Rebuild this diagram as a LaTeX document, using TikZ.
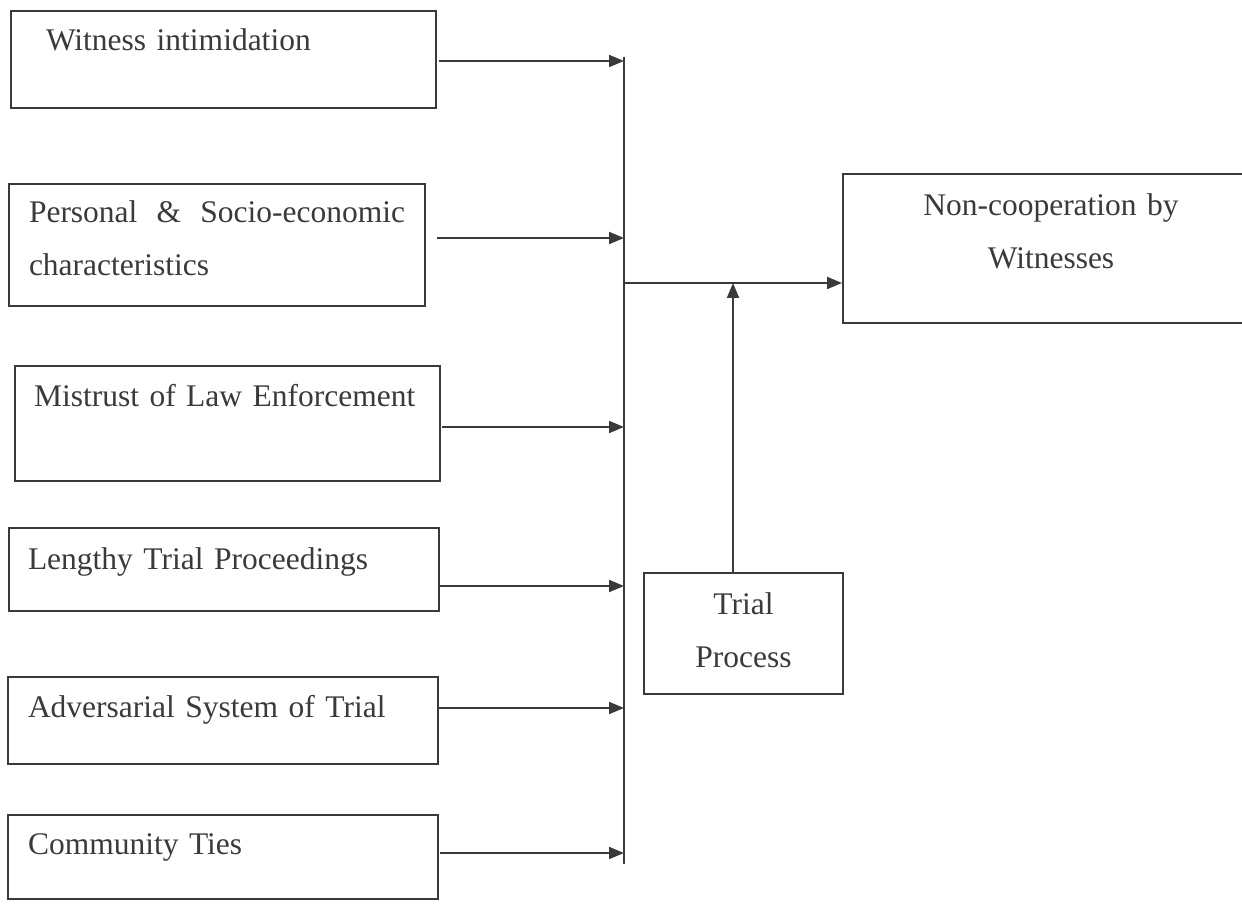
\documentclass[tikz,border=0pt]{standalone}
\usepackage{fontspec}
\setmainfont{Liberation Serif}
\usetikzlibrary{arrows.meta,calc}
\definecolor{ink}{HTML}{3A3A3A}
\tikzset{
  factor/.style={draw=ink, text=ink, line width=2pt, anchor=north west,
    inner ysep=0pt, font=\fontsize{31.5}{53}\selectfont},
  wire/.style={draw=ink, line width=2pt},
  flow/.style={wire, -{Triangle[length=15pt,width=12pt]}}
}

\begin{document}
\begin{tikzpicture}[x=1pt,y=-1pt]
\useasboundingbox (0,0) rectangle (1242,909);
\clip (0,0) rectangle (1242,909);
 \node [factor, inner xsep=35pt, text width=355pt, text height=40pt, text depth=57pt, align=left] (intim) at (10,10) {Witness intimidation};
 \node [factor, inner xsep=20pt, text width=376pt, text height=39pt, text depth=83pt, align=justify] (socio) at (8,183) {Personal \& Socio-economic characteristics};
 \node [factor, inner xsep=19pt, text width=387pt, text height=40pt, text depth=75pt, align=left] (mistrust) at (14,365) {Mistrust of Law Enforcement};
 \node [factor, inner xsep=19pt, text width=392pt, text height=41pt, text depth=42pt, align=left] (lengthy) at (8,527) {Lengthy Trial Proceedings};
 \node [factor, inner xsep=20pt, text width=390pt, text height=40pt, text depth=47pt, align=left] (advers) at (7,676) {Adversarial System of Trial};
 \node [factor, inner xsep=20pt, text width=390pt, text height=39pt, text depth=45pt, align=left] (ties) at (7,814) {Community Ties};
 \node [factor, inner xsep=20pt, text width=376pt, text height=42pt, text depth=107pt, align=center] (noncoop) at (842,173) {Non-cooperation by\\Witnesses};
 \node [factor, inner xsep=10pt, text width=179pt, text height=41pt, text depth=80pt, align=center] (trial) at (643,572) {Trial\\Process};
% collecting line
 \coordinate (bustop) at (624,57);
 \coordinate (busbot) at (624,864);
 \coordinate (junction) at (624,283);
 \draw [wire] (bustop) -- (busbot);
 \foreach \n/\dx/\dy in {intim/2/-1.5, socio/11/7, mistrust/1/-3.5, lengthy/0/-16.5, advers/0/12.5, ties/1/4}
   \draw [flow] ([xshift=\dx pt,yshift=\dy pt]\n.east) -- ([yshift=\dy pt]\n.east -| bustop);
 \draw [flow] (junction) -- (junction -| noncoop.west);
 \draw [flow] ([xshift=-10.5pt]trial.north) -- ([xshift=-10.5pt]trial.north |- junction);
\end{tikzpicture}
\end{document}
